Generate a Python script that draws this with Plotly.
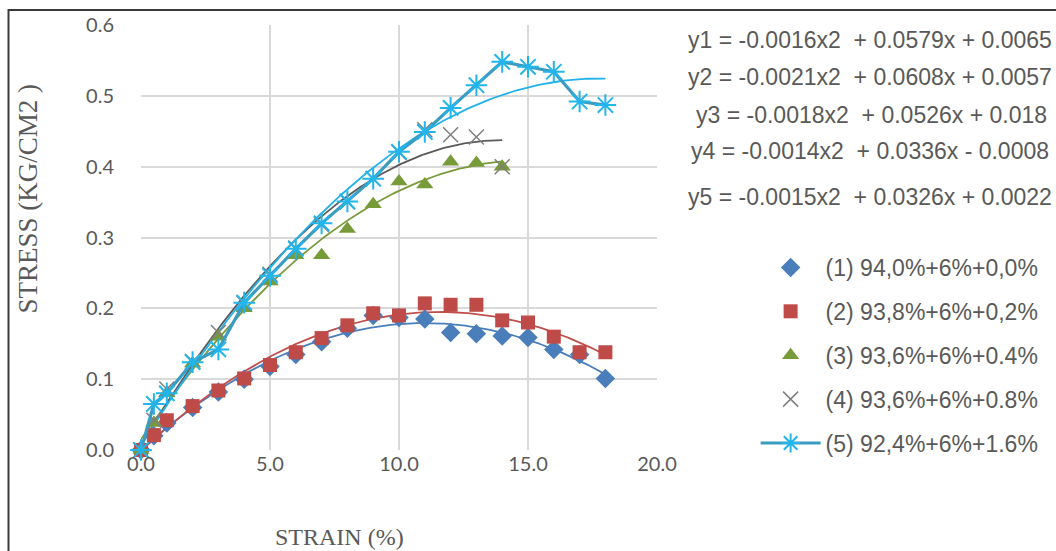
import numpy as np
import plotly.graph_objects as go

# ---- data ----
strain_1 = [0, 0.5, 1, 2, 3, 4, 5, 6, 7, 8, 9, 10, 11, 12, 13, 14, 15, 16, 17, 18]
stress_1 = [0, 0.02, 0.038, 0.06, 0.082, 0.1, 0.118, 0.135, 0.153, 0.172, 0.19, 0.187,
            0.185, 0.166, 0.164, 0.161, 0.159, 0.142, 0.135, 0.101]
strain_2 = [0, 0.5, 1, 2, 3, 4, 5, 6, 7, 8, 9, 10, 11, 12, 13, 14, 15, 16, 17, 18]
stress_2 = [0, 0.021, 0.042, 0.062, 0.084, 0.101, 0.12, 0.138, 0.158, 0.176, 0.193, 0.19,
            0.207, 0.205, 0.205, 0.183, 0.18, 0.16, 0.138, 0.138]
strain_3 = [0, 0.5, 1, 2, 3, 4, 5, 6, 7, 8, 9, 10, 11, 12, 13, 14]
stress_3 = [0, 0.038, 0.08, 0.122, 0.16, 0.2, 0.238, 0.275, 0.275, 0.312, 0.347, 0.379,
            0.375, 0.407, 0.405, 0.4]
strain_4 = [0, 0.5, 1, 2, 3, 4, 5, 6, 7, 8, 9, 10, 11, 12, 13, 14]
stress_4 = [0, 0.042, 0.086, 0.125, 0.166, 0.207, 0.248, 0.285, 0.318, 0.35, 0.383, 0.42,
            0.452, 0.445, 0.442, 0.4]
strain_5 = [0, 0.5, 1, 2, 3, 4, 5, 6, 7, 8, 9, 10, 11, 12, 13, 14, 15, 16, 17, 18]
stress_5 = [0, 0.065, 0.08, 0.124, 0.142, 0.208, 0.246, 0.284, 0.32, 0.351, 0.383, 0.421,
            0.449, 0.483, 0.515, 0.548, 0.541, 0.534, 0.492, 0.487]

names = ["(1) 94,0%+6%+0,0%", "(2) 93,8%+6%+0,2%", "(3) 93,6%+6%+0.4%",
         "(4) 93,6%+6%+0.8%", "(5) 92,4%+6%+1.6%"]
equations = ["y1 = -0.0016x2  + 0.0579x + 0.0065",
             "y2 = -0.0021x2  + 0.0608x + 0.0057",
             "y3 = -0.0018x2  + 0.0526x + 0.018",
             "y4 = -0.0014x2  + 0.0336x - 0.0008",
             "y5 = -0.0015x2  + 0.0326x + 0.0022"]
x_ticks = [0, 5, 10, 15, 20]
y_ticks = [0, 0.1, 0.2, 0.3, 0.4, 0.5, 0.6]

series = [(strain_1, stress_1), (strain_2, stress_2), (strain_3, stress_3),
          (strain_4, stress_4), (strain_5, stress_5)]

marker_colors = ["#4A7EBB", "#BE4B48", "#789B3A", "#7F7F7F", "#22B5EC"]
trend_colors = ["#4A7EBB", "#C0504D", "#7A9B3C", "#5A5A5A", "#22B2EA"]
symbols = ["diamond", "square", "triangle-up", "x-thin-open", "asterisk-open"]
sizes = [15, 14, 15, 15, 18]

fig = go.Figure()

# trendlines (2nd-order polynomial fits of each series)
for i, (xs, ys) in enumerate(series):
    coef = np.polyfit(xs, ys, 2)
    xf = np.linspace(0, max(xs), 200)
    fig.add_trace(go.Scatter(
        x=xf, y=np.polyval(coef, xf), mode="lines",
        line=dict(color=trend_colors[i], width=1.8),
        showlegend=False, hoverinfo="skip", cliponaxis=False))

# data series
for i, (xs, ys) in enumerate(series):
    if i == 4:
        mode = "lines+markers"
        line = dict(color="#3A9CC0", width=3.2)
        mk = dict(symbol=symbols[i], size=sizes[i], color=marker_colors[i],
                  line=dict(color=marker_colors[i], width=2))
    elif i == 3:
        mode = "markers"
        line = None
        mk = dict(symbol=symbols[i], size=sizes[i], color=marker_colors[i],
                  line=dict(color=marker_colors[i], width=1.5))
    else:
        mode = "markers"
        line = None
        mk = dict(symbol=symbols[i], size=sizes[i], color=marker_colors[i],
                  line=dict(width=0))
    fig.add_trace(go.Scatter(
        x=xs, y=ys, mode=mode, name=names[i], marker=mk, line=line,
        legendgroup=f"g{i}", cliponaxis=False))

W, H = 1056, 551
L, R, T, B = 141, 397, 23, 101
pw, ph = W - L - R, H - T - B


def px_to_paper(px, py):
    return (px - L) / pw, 1 - (py - T) / ph


# equations
eq_y = [38, 75, 113, 150, 196]
eq_x = [1058, 1058, 1053, 1055, 1058]
for txt, ex, ey in zip(equations, eq_x, eq_y):
    xp, yp = px_to_paper(ex, ey)
    fig.add_annotation(x=xp, y=yp, xref="paper", yref="paper", text=txt,
                       showarrow=False, xanchor="right", yanchor="middle",
                       font=dict(family="Liberation Sans", size=23, color="#595959"))

# axis titles
xp, yp = px_to_paper(28, 197)
fig.add_annotation(x=xp, y=yp, xref="paper", yref="paper", text="STRESS (KG/CM2 )",
                   showarrow=False, textangle=-90, xanchor="center", yanchor="middle",
                   font=dict(family="Liberation Serif", size=27, color="#595959"))
xp, yp = px_to_paper(340, 537)
fig.add_annotation(x=xp, y=yp, xref="paper", yref="paper", text="STRAIN (%)",
                   showarrow=False, xanchor="center", yanchor="middle",
                   font=dict(family="Liberation Serif", size=24, color="#595959"))

# outer frame
x0, y0 = px_to_paper(8, 8)
x1, y1 = px_to_paper(1070, 570)
fig.add_shape(type="rect", xref="paper", yref="paper", x0=x0, y0=y1, x1=x1, y1=y0,
              line=dict(color="#3A3A3A", width=2), layer="above")

lx, ly = px_to_paper(758, 245)
fig.update_layout(
    width=W, height=H,
    margin=dict(l=L, r=R, t=T, b=B),
    paper_bgcolor="white", plot_bgcolor="white",
    showlegend=True,
    legend=dict(x=lx, y=ly, xanchor="left", yanchor="top",
                font=dict(family="Liberation Sans", size=23, color="#595959"),
                tracegroupgap=11, traceorder="grouped", bgcolor="rgba(0,0,0,0)",
                itemwidth=60),
    xaxis=dict(range=[0, 20], tickvals=x_ticks, ticktext=[f"{v:.1f}" for v in x_ticks],
               showgrid=True, gridcolor="#D9D9D9", gridwidth=1.5, zeroline=False,
               showline=False, ticks="",
               tickfont=dict(family="Lato", size=20, color="#595959")),
    yaxis=dict(range=[0, 0.6], tickvals=y_ticks, ticktext=[f"{v:.1f}" for v in y_ticks],
               showgrid=True, gridcolor="#D9D9D9", gridwidth=1.5, zeroline=False,
               showline=False, ticks="", ticklabelstandoff=26,
               tickfont=dict(family="Lato", size=20, color="#595959")),
)

fig.write_html("out.html")
